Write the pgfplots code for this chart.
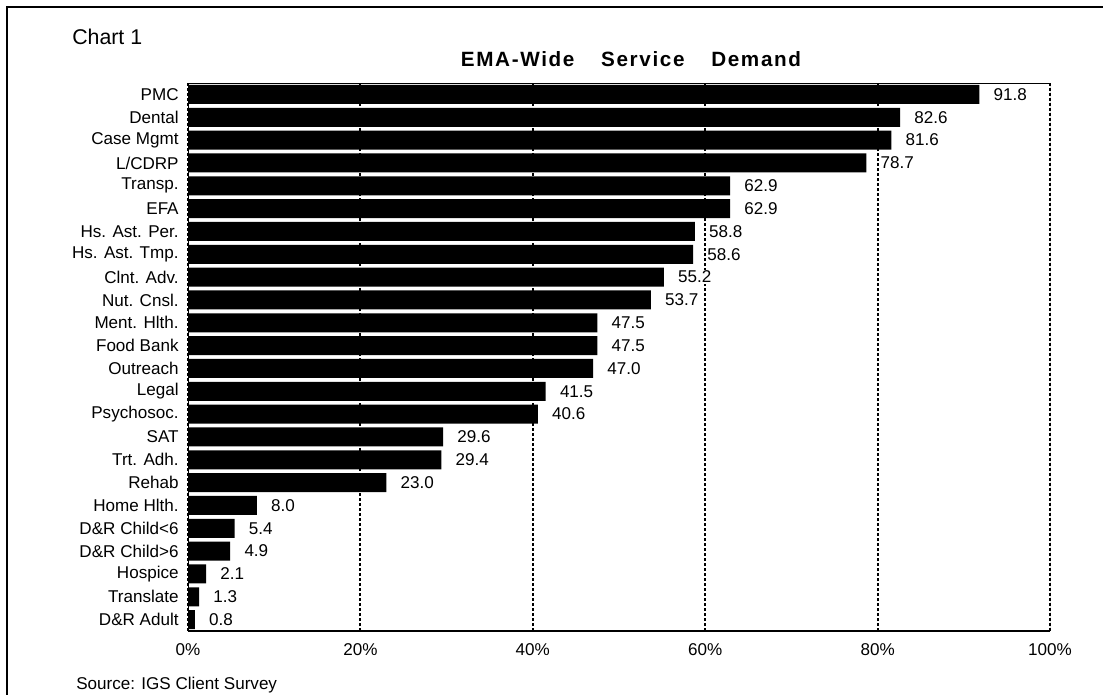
\documentclass[border=0pt]{standalone}
\usepackage{pgfplots}
\pgfplotsset{compat=1.18}
\usepackage{fontspec}
\setmainfont{Liberation Sans}
\pgfplotstableread{
y v
23 91.8
22 82.6
21 81.6
20 78.7
19 62.9
18 62.9
17 58.8
16 58.6
15 55.2
14 53.7
13 47.5
12 47.5
11 47.0
10 41.5
9 40.6
8 29.6
7 29.4
6 23.0
5 8.0
4 5.4
3 4.9
2 2.1
1 1.3
0 0.8
}\demand
\begin{document}
\begin{tikzpicture}
\useasboundingbox (0,0) rectangle (827.25pt,-520.5pt);
\draw[line width=1.5pt] (5.25pt,-530pt) -- (5.25pt,-5.25pt) -- (840pt,-5.25pt);
\node[anchor=west, inner sep=0pt, font=\fontsize{16}{18}\selectfont] at (54pt,-27.75pt) {Chart 1};
\node[anchor=base, inner sep=0pt, font=\bfseries\fontsize{15.5}{18}\selectfont\addfontfeature{LetterSpace=8}] at (473.25pt,-49.5pt) {EMA-Wide\hspace{20pt}Service\hspace{20pt}Demand};
\node[anchor=west, inner sep=0pt, font=\fontsize{12.8}{14}\selectfont] at (57pt,-513.75pt) {Source: IGS Client Survey};
\begin{axis}[
  at={(141pt,-473.25pt)}, anchor=south west,
  width=646.5pt, height=411pt, scale only axis,
  xbar, bar width=14.25pt,
  xmin=0, xmax=100, ymin=-0.5, ymax=23.5,
  /pgf/number format/assume math mode=true,
  ytick={0,...,23},
  yticklabels={D\&R Adult,Translate,Hospice,D\&R Child>6,D\&R Child<6,Home Hlth.,Rehab,Trt. Adh.,SAT,Psychosoc.,Legal,Outreach,Food Bank,Ment. Hlth.,Nut. Cnsl.,Clnt. Adv.,Hs. Ast. Tmp.,Hs. Ast. Per.,EFA,Transp.,L/CDRP,Case Mgmt,Dental,PMC},
  xtick={0,20,40,60,80,100},
  xticklabel={\pgfmathprintnumber{\tick}\%},
  major tick length=0pt,
  xmajorgrids,
  major x grid style={black, line width=1.5pt, dash pattern=on 2.25pt off 1.5pt},
  axis line style={draw=none},
  tick label style={font=\fontsize{12.8}{14}\selectfont},
  xticklabel style={yshift=-6pt},
  yticklabel style={xshift=-3.5pt},
  point meta=x,
  nodes near coords={\pgfmathprintnumber[fixed,zerofill,precision=1]{\pgfplotspointmeta}},
  nodes near coords style={anchor=west, fill=white, inner sep=1pt, xshift=9.5pt, font=\fontsize{12.8}{14}\selectfont, text=black},
]
\addplot[fill=black, draw=none] table[x=v, y=y] {\demand};
\draw[line width=1.5pt] (rel axis cs:0,1) -- (rel axis cs:0,0) -- (rel axis cs:1,0);
\draw[line width=1.5pt] (rel axis cs:0,1) -- (rel axis cs:1,1);
\draw[line width=0.5pt] (rel axis cs:1,0) -- (rel axis cs:1,1);
\end{axis}
\end{tikzpicture}
\end{document}
